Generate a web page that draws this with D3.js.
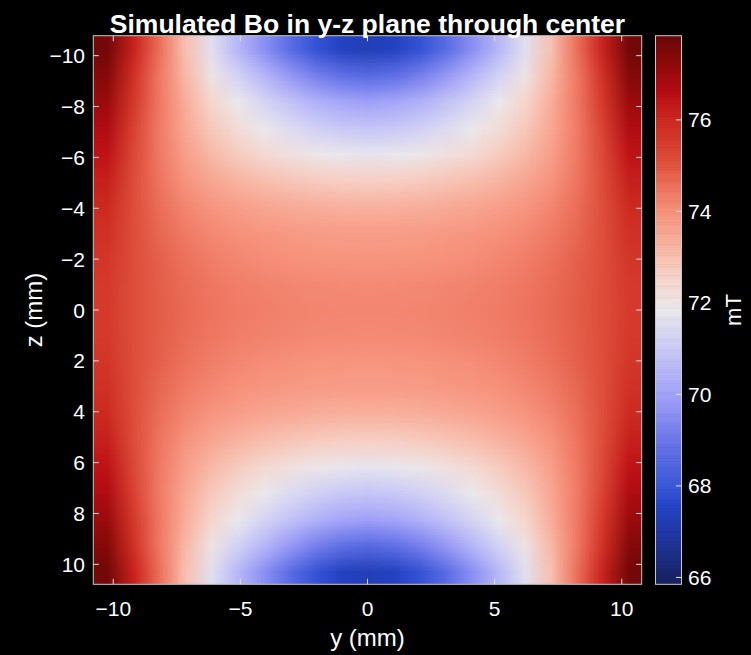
<!DOCTYPE html>
<html>
<head>
<meta charset="utf-8">
<script src="https://cdn.jsdelivr.net/npm/d3@7"></script>
<style>
  html, body { margin: 0; padding: 0; background: #000; }
  svg { display: block; }
  text { font-family: "Liberation Sans", Arial, Helvetica, sans-serif; fill: #fff; }
</style>
</head>
<body>
<svg id="chart" width="751" height="655"></svg>
<script>
// Cell centres of the field map (mm)
const yCells = [-10.27, -9.24, -8.21, -7.19, -6.16, -5.13, -4.11, -3.08, -2.05, -1.03, 0,
                1.03, 2.05, 3.08, 4.11, 5.13, 6.16, 7.19, 8.21, 9.24, 10.27];
const zCells = [-10.27, -9.24, -8.21, -7.19, -6.16, -5.13, -4.11, -3.08, -2.05, -1.03, 0,
                1.03, 2.05, 3.08, 4.11, 5.13, 6.16, 7.19, 8.21, 9.24, 10.27];

// Bo (mT): one row per zCells entry (top to bottom), one column per yCells entry
const boField = [
  [77.70, 76.18, 74.60, 73.00, 71.60, 70.55, 69.60, 68.65, 67.90, 67.45, 67.30, 67.45, 67.90, 68.65, 69.60, 70.55, 71.60, 73.00, 74.60, 76.18, 77.70],
  [77.38, 75.85, 74.45, 73.17, 72.05, 71.25, 70.50, 69.80, 69.20, 68.75, 68.60, 68.75, 69.20, 69.80, 70.50, 71.25, 72.05, 73.17, 74.45, 75.85, 77.38],
  [77.05, 75.65, 74.45, 73.37, 72.49, 71.84, 71.30, 70.81, 70.38, 70.07, 69.95, 70.07, 70.38, 70.81, 71.30, 71.84, 72.49, 73.37, 74.45, 75.65, 77.05],
  [76.72, 75.42, 74.40, 73.51, 72.80, 72.28, 71.85, 71.49, 71.19, 70.97, 70.89, 70.97, 71.19, 71.49, 71.85, 72.28, 72.80, 73.51, 74.40, 75.42, 76.72],
  [76.45, 75.28, 74.43, 73.71, 73.15, 72.73, 72.40, 72.14, 71.93, 71.79, 71.73, 71.79, 71.93, 72.14, 72.40, 72.73, 73.15, 73.71, 74.43, 75.28, 76.45],
  [76.20, 75.20, 74.50, 73.95, 73.54, 73.25, 73.03, 72.86, 72.73, 72.65, 72.62, 72.65, 72.73, 72.86, 73.03, 73.25, 73.54, 73.95, 74.50, 75.20, 76.20],
  [76.00, 75.16, 74.61, 74.20, 73.90, 73.70, 73.55, 73.44, 73.36, 73.31, 73.30, 73.31, 73.36, 73.44, 73.55, 73.70, 73.90, 74.20, 74.61, 75.16, 76.00],
  [75.82, 75.15, 74.71, 74.40, 74.18, 74.02, 73.90, 73.83, 73.78, 73.75, 73.74, 73.75, 73.78, 73.83, 73.90, 74.02, 74.18, 74.40, 74.71, 75.15, 75.82],
  [75.68, 75.16, 74.81, 74.54, 74.34, 74.19, 74.08, 74.01, 73.96, 73.93, 73.92, 73.93, 73.96, 74.01, 74.08, 74.19, 74.34, 74.54, 74.81, 75.16, 75.68],
  [75.58, 75.15, 74.86, 74.64, 74.47, 74.35, 74.26, 74.20, 74.16, 74.14, 74.13, 74.14, 74.16, 74.20, 74.26, 74.35, 74.47, 74.64, 74.86, 75.15, 75.58],
  [75.55, 75.15, 74.88, 74.67, 74.51, 74.40, 74.32, 74.26, 74.23, 74.21, 74.20, 74.21, 74.23, 74.26, 74.32, 74.40, 74.51, 74.67, 74.88, 75.15, 75.55],
  [75.58, 75.15, 74.86, 74.64, 74.47, 74.35, 74.26, 74.20, 74.16, 74.14, 74.13, 74.14, 74.16, 74.20, 74.26, 74.35, 74.47, 74.64, 74.86, 75.15, 75.58],
  [75.68, 75.16, 74.81, 74.54, 74.34, 74.19, 74.08, 74.01, 73.96, 73.93, 73.92, 73.93, 73.96, 74.01, 74.08, 74.19, 74.34, 74.54, 74.81, 75.16, 75.68],
  [75.82, 75.15, 74.71, 74.40, 74.18, 74.02, 73.90, 73.83, 73.78, 73.75, 73.74, 73.75, 73.78, 73.83, 73.90, 74.02, 74.18, 74.40, 74.71, 75.15, 75.82],
  [76.00, 75.16, 74.61, 74.20, 73.90, 73.70, 73.55, 73.44, 73.36, 73.31, 73.30, 73.31, 73.36, 73.44, 73.55, 73.70, 73.90, 74.20, 74.61, 75.16, 76.00],
  [76.20, 75.20, 74.50, 73.95, 73.54, 73.25, 73.03, 72.86, 72.73, 72.65, 72.62, 72.65, 72.73, 72.86, 73.03, 73.25, 73.54, 73.95, 74.50, 75.20, 76.20],
  [76.45, 75.28, 74.43, 73.71, 73.15, 72.73, 72.40, 72.14, 71.93, 71.79, 71.73, 71.79, 71.93, 72.14, 72.40, 72.73, 73.15, 73.71, 74.43, 75.28, 76.45],
  [76.72, 75.42, 74.40, 73.51, 72.80, 72.28, 71.85, 71.49, 71.19, 70.97, 70.89, 70.97, 71.19, 71.49, 71.85, 72.28, 72.80, 73.51, 74.40, 75.42, 76.72],
  [77.05, 75.65, 74.45, 73.37, 72.49, 71.84, 71.30, 70.81, 70.38, 70.07, 69.95, 70.07, 70.38, 70.81, 71.30, 71.84, 72.49, 73.37, 74.45, 75.65, 77.05],
  [77.38, 75.85, 74.45, 73.17, 72.05, 71.25, 70.50, 69.80, 69.20, 68.75, 68.60, 68.75, 69.20, 69.80, 70.50, 71.25, 72.05, 73.17, 74.45, 75.85, 77.38],
  [77.70, 76.18, 74.60, 73.00, 71.60, 70.55, 69.60, 68.65, 67.90, 67.45, 67.30, 67.45, 67.90, 68.65, 69.60, 70.55, 71.60, 73.00, 74.60, 76.18, 77.70]
];

const yTicks = [-10, -5, 0, 5, 10];
const zTicks = [-10, -8, -6, -4, -2, 0, 2, 4, 6, 8, 10];
const cbTicks = [66, 68, 70, 72, 74, 76];
const colorLimits = [65.85, 77.84];

// Diverging blue-white-red colormap
const cmapStops  = [65.85, 66.3, 67.0, 67.6, 68.0, 69.0, 70.0, 71.0, 71.85, 72.5, 73.0, 73.5, 74.0, 74.5, 75.0, 75.5, 76.0, 76.6, 77.2, 77.84];
const cmapColors = ["#17215c", "#1b2a78", "#2038a8", "#2545c8", "#3a58d8", "#6c76ea", "#a2a2f8", "#c9c9f7", "#ebe8ec",
                    "#f6d6ce", "#f8c0b0", "#f8a894", "#f7927c", "#ee7560", "#e0553f", "#d63c2e", "#cc2a20", "#b80c14", "#900a0a", "#6a0808"];

const fmt = d => String(d).replace("-", "\u2212");

const svg = d3.select("#chart");
svg.append("rect").attr("width", 751).attr("height", 655).attr("fill", "#000");

const plot = { left: 93.3, right: 641.7, top: 35.7, bottom: 584.3 };
const cb = { left: 655.5, right: 681.5 };

const dy = yCells[1] - yCells[0];
const dz = zCells[1] - zCells[0];
const yExtent = [yCells[0] - dy / 2, yCells[yCells.length - 1] + dy / 2];
const zExtent = [zCells[0] - dz / 2, zCells[zCells.length - 1] + dz / 2];

const x = d3.scaleLinear().domain(yExtent).range([plot.left, plot.right]);
const y = d3.scaleLinear().domain(zExtent).range([plot.top, plot.bottom]);
const color = d3.scaleLinear().domain(cmapStops).range(cmapColors)
  .interpolate(d3.interpolateRgb).clamp(true);

// Field map: one pixel per cell, then stretched smoothly over the axes
const nRows = zCells.length, nCols = yCells.length;
const cnv = document.createElement("canvas");
cnv.width = nCols; cnv.height = nRows;
const ctx = cnv.getContext("2d");
const img = ctx.createImageData(nCols, nRows);
boField.forEach((row, r) => row.forEach((v, c) => {
  const col = d3.rgb(color(v));
  const k = (r * nCols + c) * 4;
  img.data[k] = col.r; img.data[k + 1] = col.g; img.data[k + 2] = col.b; img.data[k + 3] = 255;
}));
ctx.putImageData(img, 0, 0);

svg.append("image")
  .attr("href", cnv.toDataURL())
  .attr("x", x(yExtent[0])).attr("y", y(zExtent[0]))
  .attr("width", x(yExtent[1]) - x(yExtent[0]))
  .attr("height", y(zExtent[1]) - y(zExtent[0]))
  .attr("preserveAspectRatio", "none");

// Axes box with inward ticks on all four sides
const tickLen = 5.5;
const tickColor = "#e6e0e0";
const g = svg.append("g");
g.append("rect")
  .attr("x", plot.left).attr("y", plot.top)
  .attr("width", plot.right - plot.left).attr("height", plot.bottom - plot.top)
  .attr("fill", "none").attr("stroke", "#c8c8c8").attr("stroke-width", 1);

yTicks.forEach(t => {
  g.append("line").attr("x1", x(t)).attr("x2", x(t))
    .attr("y1", plot.bottom).attr("y2", plot.bottom - tickLen)
    .attr("stroke", tickColor).attr("stroke-width", 1);
  g.append("line").attr("x1", x(t)).attr("x2", x(t))
    .attr("y1", plot.top).attr("y2", plot.top + tickLen)
    .attr("stroke", tickColor).attr("stroke-width", 1);
  g.append("text").attr("x", x(t)).attr("y", 616)
    .attr("text-anchor", "middle").attr("font-size", 21).text(fmt(t));
});

zTicks.forEach(t => {
  g.append("line").attr("x1", plot.left).attr("x2", plot.left + tickLen)
    .attr("y1", y(t)).attr("y2", y(t))
    .attr("stroke", tickColor).attr("stroke-width", 1);
  g.append("line").attr("x1", plot.right).attr("x2", plot.right - tickLen)
    .attr("y1", y(t)).attr("y2", y(t))
    .attr("stroke", tickColor).attr("stroke-width", 1);
  g.append("text").attr("x", 85).attr("y", y(t)).attr("dy", "0.36em")
    .attr("text-anchor", "end").attr("font-size", 21).text(fmt(t));
});

// Axis labels and title
svg.append("text").attr("x", (plot.left + plot.right) / 2).attr("y", 646)
  .attr("text-anchor", "middle").attr("font-size", 24).text("y (mm)");
svg.append("text")
  .attr("transform", `translate(42,${(plot.top + plot.bottom) / 2}) rotate(-90)`)
  .attr("text-anchor", "middle").attr("font-size", 24).text("z (mm)");
svg.append("text").attr("x", (plot.left + plot.right) / 2).attr("y", 33)
  .attr("text-anchor", "middle").attr("font-size", 26.5).attr("font-weight", "bold")
  .text("Simulated Bo in y-z plane through center");

// Colorbar
const cy = d3.scaleLinear().domain(colorLimits).range([plot.bottom, plot.top]);
const cbSteps = d3.range(0, 300);
const stepH = (plot.bottom - plot.top) / cbSteps.length;
svg.append("g").selectAll("rect").data(cbSteps).join("rect")
  .attr("x", cb.left).attr("width", cb.right - cb.left)
  .attr("y", i => plot.bottom - (i + 1) * stepH)
  .attr("height", stepH + 0.6)
  .attr("fill", i => color(cy.invert(plot.bottom - (i + 0.5) * stepH)));
svg.append("rect").attr("x", cb.left).attr("y", plot.top)
  .attr("width", cb.right - cb.left).attr("height", plot.bottom - plot.top)
  .attr("fill", "none").attr("stroke", "#c8c8c8").attr("stroke-width", 1);
cbTicks.forEach(t => {
  svg.append("line").attr("x1", cb.right).attr("x2", cb.right - 5.5)
    .attr("y1", cy(t)).attr("y2", cy(t))
    .attr("stroke", tickColor).attr("stroke-width", 1);
  svg.append("text").attr("x", 688).attr("y", cy(t)).attr("dy", "0.36em")
    .attr("font-size", 21).text(fmt(t));
});
svg.append("text")
  .attr("transform", `translate(741,${(plot.top + plot.bottom) / 2}) rotate(-90)`)
  .attr("text-anchor", "middle").attr("font-size", 22).text("mT");
</script>
</body>
</html>
